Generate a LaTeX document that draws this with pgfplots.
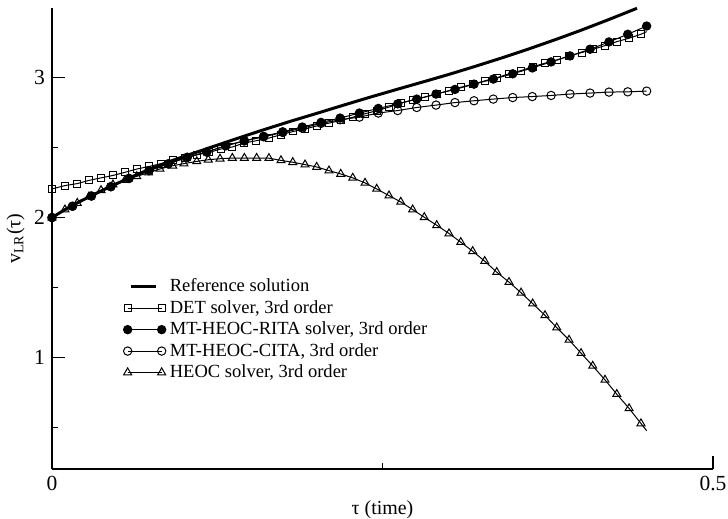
\documentclass[border=0pt]{standalone}
\usepackage{fontspec}
\setmainfont{Liberation Serif}
\usepackage{pgfplots}
\pgfplotsset{compat=1.18}
\usetikzlibrary{calc}
\pgfplotsset{
  shortline legend/.style={legend image code/.code={\draw[##1] (0.05cm,0cm) -- (0.5cm,0cm);}},
  twomark legend/.style={legend image code/.code={\draw[##1] plot coordinates {(0cm,0cm) (0.6cm,0cm)};}},
}

\begin{document}
\begin{tikzpicture}
\begin{axis}[
  scale only axis, width=330.5bp, height=230.5bp,
  xmin=0, xmax=0.5, ymin=0.2, ymax=3.5,
  axis lines*=left,
  axis line style={-, line width=0.8pt},
  tick align=inside,
  xtick={0,0.5}, minor xtick={0.25},
  ytick={1,2,3}, minor ytick={0.5,1.5,2.5},
  major tick length=6.5bp, minor tick length=3bp,
  tick style={black, line width=0.6pt},
  /pgf/number format/assume math mode=true,
  tick label style={font=\fontsize{10.8}{13}\selectfont},
  label style={font=\fontsize{10}{12}\selectfont},
  xlabel={τ (time)},
  ylabel={v\textsubscript{LR}(τ)},
  xlabel style={yshift=2bp},
  ylabel style={yshift=-2bp},
  legend cell align=left,
  legend style={at={(0.0985,0.431)}, anchor=north west, draw=none, fill=none,
    font=\fontsize{9.3}{11}\selectfont, row sep=-1.2pt},
  twomark legend,
  clip=false,
]
% reference solution
\addplot[black, line width=1.5pt, no marks, shortline legend]
  coordinates {
  (0,2.000) (0.01,2.058) (0.02,2.110) (0.03,2.157) (0.045,2.226)
  (0.06,2.290) (0.075,2.350) (0.09,2.405) (0.1,2.438) (0.12,2.502)
  (0.14,2.566) (0.16,2.628) (0.18,2.688) (0.2,2.745) (0.22,2.803)
  (0.24,2.860) (0.26,2.915) (0.28,2.969) (0.30,3.024) (0.32,3.082)
  (0.34,3.142) (0.36,3.205) (0.38,3.271) (0.40,3.340) (0.42,3.413)
  (0.4425,3.498)};
\addlegendentry{Reference solution}

% DET solver
\addplot[black, line width=0.5pt, mark=square, mark size=1.75pt,
  mark options={solid, line width=0.5pt}]
  coordinates {
  (0,2.205) (0.0098,2.229) (0.0191,2.243) (0.0280,2.266) (0.0371,2.284)
  (0.0464,2.302) (0.0552,2.324) (0.0645,2.348) (0.0736,2.366) (0.0825,2.386)
  (0.0918,2.409) (0.1006,2.426) (0.1095,2.450) (0.1188,2.466) (0.1278,2.491)
  (0.1364,2.505) (0.1455,2.534) (0.1545,2.550) (0.1641,2.569) (0.1732,2.593)
  (0.1825,2.616) (0.1914,2.634) (0.2007,2.657) (0.2095,2.676) (0.2184,2.695)
  (0.2279,2.719) (0.2368,2.743) (0.2461,2.766) (0.2551,2.791) (0.2638,2.819)
  (0.2733,2.843) (0.2821,2.862) (0.2915,2.886) (0.3005,2.909) (0.3096,2.934)
  (0.3187,2.955) (0.3275,2.979) (0.3368,3.002) (0.3457,3.029) (0.3548,3.052)
  (0.3641,3.081) (0.3729,3.105) (0.3822,3.129) (0.3913,3.157) (0.4007,3.181)
  (0.4095,3.205) (0.4183,3.231) (0.4272,3.259) (0.4367,3.284) (0.4455,3.312)};
\addlegendentry{DET solver, 3rd order}
\addplot[black, line width=0.5pt, no marks, forget plot]
  coordinates {(0.4455,3.312) (0.4498,3.331)};

% MT-HEOC-RITA solver
\addplot[black, line width=0.5pt, mark=*, mark size=2.1pt,
  mark options={solid, fill=black}]
  coordinates {
  (0,2.000) (0.0155,2.081) (0.0298,2.154) (0.0445,2.221) (0.0582,2.280)
  (0.0734,2.336) (0.0879,2.384) (0.1023,2.431) (0.1170,2.469) (0.1314,2.514)
  (0.1455,2.550) (0.1601,2.581) (0.1745,2.614) (0.1893,2.648) (0.2035,2.681)
  (0.2179,2.712) (0.2325,2.748) (0.2468,2.781) (0.2615,2.814) (0.2759,2.848)
  (0.2905,2.884) (0.3048,2.917) (0.3192,2.955) (0.3338,2.991) (0.3485,3.029)
  (0.3633,3.071) (0.3775,3.114) (0.3918,3.157) (0.4070,3.205) (0.4213,3.257)
  (0.4355,3.312) (0.4498,3.371)};
\addlegendentry{MT-HEOC-RITA solver, 3rd order}

% MT-HEOC-CITA
\addplot[black, line width=0.5pt, mark=o, mark size=2.1pt,
  mark options={solid, line width=0.5pt}]
  coordinates {
  (0,2.000) (0.0155,2.081) (0.0298,2.154) (0.0445,2.221) (0.0582,2.280)
  (0.0734,2.336) (0.0879,2.384) (0.1023,2.431) (0.1170,2.469) (0.1314,2.514)
  (0.1455,2.548) (0.1601,2.578) (0.1745,2.609) (0.1893,2.640) (0.2035,2.674)
  (0.2179,2.700) (0.2325,2.719) (0.2468,2.748) (0.2615,2.766) (0.2759,2.788)
  (0.2905,2.805) (0.3048,2.823) (0.3192,2.836) (0.3338,2.848) (0.3485,2.859)
  (0.3633,2.866) (0.3775,2.874) (0.3918,2.884) (0.4070,2.891) (0.4213,2.898)
  (0.4355,2.900) (0.4498,2.905)};
\addlegendentry{MT-HEOC-CITA, 3rd order}

% HEOC solver
\addplot[black, line width=0.5pt, mark=triangle, mark size=2.3pt,
  mark options={solid, line width=0.5pt}]
  coordinates {
  (0,2.000) (0.0098,2.057) (0.0191,2.104) (0.0280,2.150) (0.0371,2.195)
  (0.0461,2.236) (0.0552,2.268) (0.0641,2.295) (0.0730,2.321) (0.0817,2.348)
  (0.0913,2.371) (0.0998,2.386) (0.1095,2.402) (0.1182,2.414) (0.1271,2.421)
  (0.1364,2.426) (0.1455,2.426) (0.1548,2.426) (0.1641,2.425) (0.1732,2.409)
  (0.1821,2.396) (0.1914,2.379) (0.2002,2.362) (0.2095,2.336) (0.2184,2.312)
  (0.2275,2.284) (0.2368,2.248) (0.2456,2.205) (0.2549,2.157) (0.2638,2.112)
  (0.2728,2.057) (0.2816,2.002) (0.2910,1.945) (0.3003,1.886) (0.3092,1.824)
  (0.3182,1.759) (0.3273,1.688) (0.3364,1.609) (0.3457,1.538) (0.3548,1.462)
  (0.3636,1.384) (0.3729,1.300) (0.3818,1.212) (0.3911,1.124) (0.4002,1.029)
  (0.4090,0.938) (0.4183,0.838) (0.4272,0.736) (0.4365,0.634) (0.4455,0.526)};
\addlegendentry{HEOC solver, 3rd order}
\addplot[black, line width=0.5pt, no marks, forget plot]
  coordinates {(0.4455,0.526) (0.4498,0.474)};
\end{axis}
\pgfresetboundingbox
\path[use as bounding box] ($(current axis.south west)+(-26bp,-24.5bp)$)
  rectangle ($(current axis.north east)+(7.5bp,4bp)$);
\end{tikzpicture}
\end{document}
